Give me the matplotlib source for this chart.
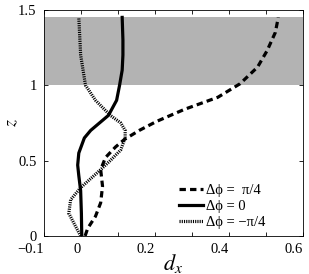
import numpy as np
import matplotlib.pyplot as plt

# profiles d_x(z)
z_pos = [0.0, 0.05, 0.13, 0.22, 0.33, 0.44, 0.52, 0.59, 0.64, 0.70, 0.76, 0.84, 0.92, 1.01, 1.12, 1.23, 1.35, 1.45]
dx_pos = [0.012, 0.019, 0.04, 0.054, 0.059, 0.054, 0.067, 0.094, 0.118, 0.158, 0.205, 0.28, 0.37, 0.43, 0.477, 0.503, 0.525, 0.533]

z_zero = [0.0, 0.15, 0.3, 0.4, 0.47, 0.55, 0.65, 0.7, 0.8, 0.9, 1.0, 1.1, 1.2, 1.3, 1.45]
dx_zero = [0.003, 0.002, 0.0, -0.005, -0.008, -0.005, 0.01, 0.027, 0.075, 0.097, 0.105, 0.112, 0.114, 0.114, 0.112]

z_neg = [0.0, 0.06, 0.15, 0.24, 0.32, 0.44, 0.5, 0.57, 0.65, 0.7, 0.75, 0.8, 0.9, 1.0, 1.2, 1.45]
dx_neg = [0.0, -0.013, -0.032, -0.027, 0.0, 0.054, 0.08, 0.108, 0.12, 0.12, 0.108, 0.08, 0.04, 0.013, 0.0, -0.005]

labels = ['\u0394\u03d5 =  \u03c0/4', '\u0394\u03d5 = 0', '\u0394\u03d5 = \u2212\u03c0/4']

plt.rcParams['font.family'] = ['Liberation Serif', 'DejaVu Serif']
plt.rcParams['mathtext.fontset'] = 'stix'

fig = plt.figure(figsize=(3.09, 2.74), dpi=100)
ax = fig.add_axes([0.141, 0.139, 0.840, 0.825])

ax.axhspan(1.0, 1.45, color='#b3b3b3', lw=0, zorder=0)

ax.plot(dx_pos, z_pos, color='k', lw=2.3, ls=(0, (2.0, 1.3)), label=labels[0])
ax.plot(dx_zero, z_zero, color='k', lw=2.3, ls='-', label=labels[1])
ax.plot(dx_neg, z_neg, color='k', lw=2.3, ls=(0, (0.35, 0.35)), label=labels[2])

ax.set_xlim(-0.1, 0.6)
ax.set_ylim(0, 1.5)
ax.set_xticks(np.round(np.arange(-0.1, 0.61, 0.1), 1))
ax.set_xticklabels(['\u22120.1', '0', '', '0.2', '', '0.4', '', '0.6'], ha='right')
ax.set_yticks([0, 0.5, 1, 1.5])
ax.set_yticklabels(['0', '0.5', '1', '1.5'])
ax.tick_params(direction='in', top=True, right=True, labelsize=10.5, length=3, width=0.6)
ax.tick_params(axis='x', pad=5)
ax.tick_params(axis='y', pad=5)
for s in ax.spines.values():
    s.set_linewidth(0.6)

ax.set_xlabel(r'$d_x$', fontsize=16)
ax.xaxis.set_label_coords(0.5, -0.07)
ax.set_ylabel(r'$z$', fontsize=13, rotation=90)
ax.yaxis.set_label_coords(-0.09, 0.5)

ax.legend(loc='lower left', frameon=False, fontsize=10.5, handlelength=1.7,
          handletextpad=0.2, labelspacing=0.2, borderpad=0, borderaxespad=0,
          bbox_to_anchor=(0.52, 0.03))

fig.savefig('out.png', dpi=100)
